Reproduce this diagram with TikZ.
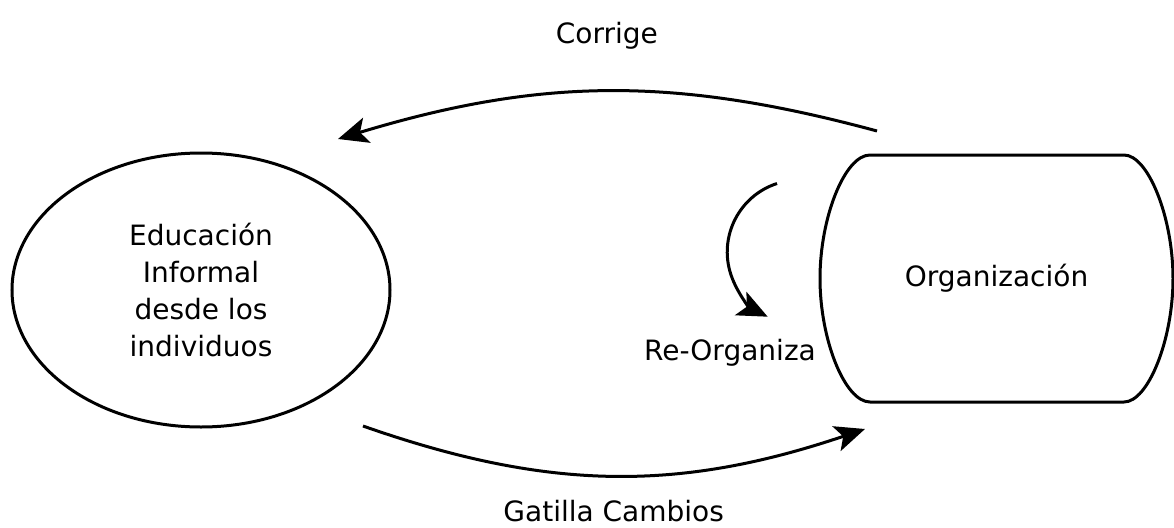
\documentclass[tikz,border=0pt]{standalone}
\usepackage{fontspec}
\setmainfont{DejaVu Sans}
\usetikzlibrary{positioning, arrows.meta, shapes}
\tikzset{
    >={Stealth[length=15pt, width=13pt, inset=3.5pt]}, % bold filled heads
    flow/.style={->, line width=1.5pt}, % the curved arrows
    learnbubble/.style={ellipse, draw, line width=1.5pt, inner sep=0pt,
        minimum width=189pt, minimum height=137pt, align=center}, % left ellipse
    orgbox/.style={rectangle, minimum width=176.5pt, minimum height=123.5pt}, % right box, outline drawn below
    orgline/.style={line width=1.5pt, line join=round},
}

\begin{document}
\begin{tikzpicture}[x=0.5pt, y=0.5pt, font=\fontsize{14}{18.5}\selectfont]
    \useasboundingbox (0,0) rectangle (1174,527);

    \node[learnbubble] (edu) at (201,237) {Educación\\Informal\\desde los\\individuos};
    \node[orgbox] (org) at (996.5,248.5) {Organización};

    % outline of the organization box, bulging sides
    \draw[orgline] (870,372) -- (1124,372)
        .. controls (1148,372) and (1173,310) .. (1173,248.5)
        .. controls (1173,187) and (1148,125) .. (1124,125) -- (870,125)
        .. controls (845,125) and (820,187) .. (820,248.5)
        .. controls (820,310) and (845,372) .. (870,372) -- cycle;

    % free ends of the arrows
    \coordinate (c0) at (877,396);
    \coordinate (c1) at (338,388);
    \coordinate (g0) at (363,101);
    \coordinate (g1) at (865,98);
    \coordinate (r0) at (777,343.5);

    \path[flow]
        (c0) edge[bend right=16] node[above=17pt]{Corrige} (c1)
        (g0) edge[bend right=19] node[below=8.5pt]{Gatilla Cambios} (g1);
    \draw[flow] (r0) arc[start angle=108, end angle=244, radius=36pt];

    \node (reorg) at (730,174) {Re-Organiza};
\end{tikzpicture}
\end{document}
